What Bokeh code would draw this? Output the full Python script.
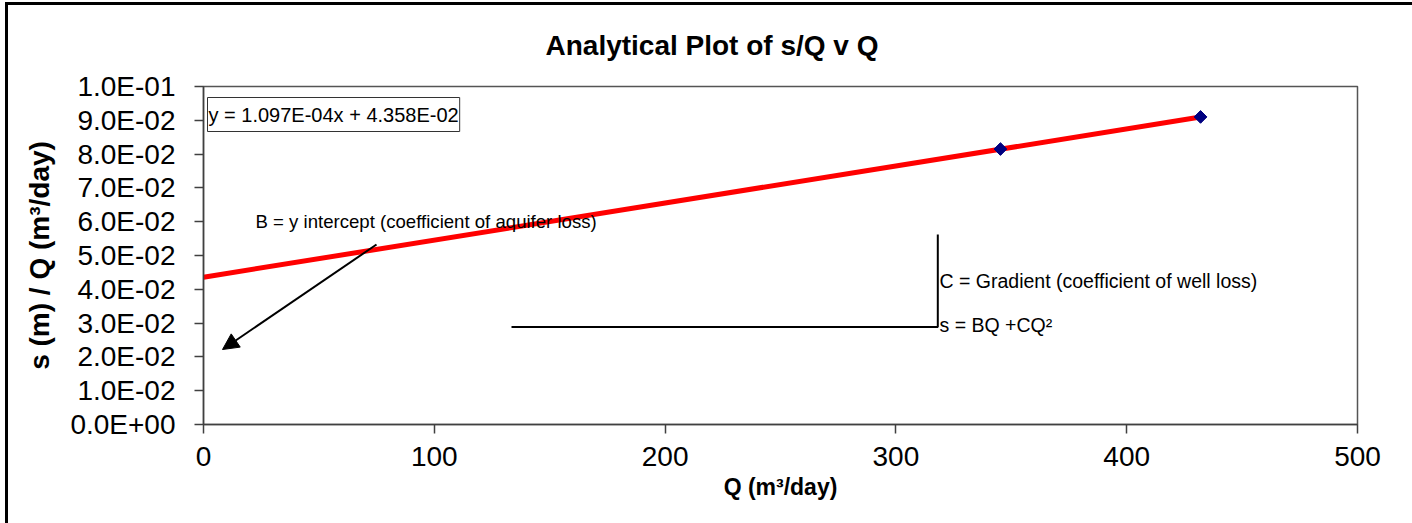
import math
from bokeh.plotting import figure
from bokeh.models import Range1d, Label, Arrow, NormalHead, CustomJSTickFormatter, FixedTicker, Title
from bokeh.embed import file_html
from bokeh.resources import INLINE

# ---- data ----
Q = [345.3, 432.0]
sQ = [0.0815, 0.0910]
slope = 1.097e-4
intercept = 4.358e-2
trend_x = [0.0, 432.0]
trend_y = [intercept + slope * x for x in trend_x]
x_ticks = [0, 100, 200, 300, 400, 500]
y_ticks = [0.0, 0.01, 0.02, 0.03, 0.04, 0.05, 0.06, 0.07, 0.08, 0.09, 0.10]

title_text = "Analytical Plot of s/Q v Q"
eq_text = "y = 1.097E-04x + 4.358E-02"
b_text = "B = y intercept (coefficient of aquifer loss)"
c_text = "C = Gradient (coefficient of well loss)"
s_text = "s = BQ +CQ\u00b2"

FONT = "Liberation Sans"

# pixel -> data helpers (layout only)
def dx(px):
    return (px - 203) / 1154.0 * 500.0

def dy(py):
    return (424 - py) / 338.0 * 0.1

p = figure(width=1412, height=523, output_backend="svg", toolbar_location=None,
           x_range=Range1d(0, 500), y_range=Range1d(0, 0.1),
           min_border_left=203, min_border_right=55, min_border_top=86, min_border_bottom=99)
p.styles = {"box-shadow": "inset 5px 2px 0 0 white, inset 8px 5px 0 0 black"}
p.background_fill_color = "white"
p.border_fill_color = "white"
p.border_fill_alpha = 0.0
p.outline_line_color = "#555555"
p.outline_line_width = 1.5
p.xgrid.visible = False
p.ygrid.visible = False

p.title = Title(text=title_text, align="left", offset=342, standoff=52,
                text_font=FONT, text_font_style="bold", text_font_size="28px", text_color="black")

for ax in (p.xaxis[0], p.yaxis[0]):
    ax.axis_line_color = "#404040"
    ax.axis_line_width = 1.5
    ax.major_tick_line_color = "#404040"
    ax.major_tick_line_width = 1.5
    ax.major_tick_out = 9
    ax.major_tick_in = 0
    ax.minor_tick_line_color = None
    ax.major_label_text_font = FONT
    ax.major_label_text_font_size = "28px"
    ax.major_label_text_color = "black"
    ax.axis_label_text_font = FONT
    ax.axis_label_text_font_style = "bold"
    ax.axis_label_text_color = "black"

p.xaxis.ticker = FixedTicker(ticks=x_ticks)
p.yaxis.ticker = FixedTicker(ticks=y_ticks)
p.yaxis.formatter = CustomJSTickFormatter(code="""
var s = tick.toExponential(1);
var parts = s.split('e');
var e = parseInt(parts[1]);
var a = Math.abs(e);
return parts[0] + 'E' + (e < 0 ? '-' : '+') + (a < 10 ? '0' + a : '' + a);
""")
p.xaxis.major_label_standoff = 13
p.yaxis.major_label_standoff = 19
p.xaxis.axis_label = "Q (m\u00b3/day)"
p.xaxis.axis_label_text_font_size = "23px"
p.xaxis.axis_label_standoff = 5
p.yaxis.axis_label = "s (m) / Q (m\u00b3/day)"
p.yaxis.axis_label_text_font_size = "28px"
p.yaxis.axis_label_standoff = 12

# trendline and points
p.line(trend_x, trend_y, line_color="#FF0000", line_width=5)
p.scatter(Q, sQ, marker="square", angle=math.pi / 4, size=9,
          fill_color="#000080", line_color="#000080")

# equation box
p.add_layout(Label(x=dx(207), y=dy(97), text=eq_text, text_align="left", text_baseline="top",
                   text_font=FONT, text_font_size="20px", text_color="black",
                   text_line_height=1.0,
                   background_fill_color="white", border_line_color="#333333",
                   border_line_width=1, padding=(1, 6)))

# annotations
p.add_layout(Label(x=dx(255), y=dy(221), text=b_text, text_align="left", text_baseline="alphabetic",
                   text_font=FONT, text_font_size="18.6px", text_color="black"))
p.add_layout(Label(x=dx(939), y=dy(280), text=c_text, text_align="left", text_baseline="alphabetic",
                   text_font=FONT, text_font_size="19.5px", text_color="black"))
p.add_layout(Label(x=dx(939), y=dy(324), text=s_text, text_align="left", text_baseline="alphabetic",
                   text_font=FONT, text_font_size="19.5px", text_color="black"))

p.line([dx(511), dx(937.3), dx(937.3)], [dy(326.5), dy(326.5), dy(234)], line_color="black", line_width=2)

p.add_layout(Arrow(end=NormalHead(size=16, fill_color="black", line_color="black"),
                   x_start=dx(376), y_start=dy(244), x_end=dx(222), y_end=dy(349),
                   line_color="black", line_width=2))

open("out.html", "w").write(file_html(p, INLINE))
